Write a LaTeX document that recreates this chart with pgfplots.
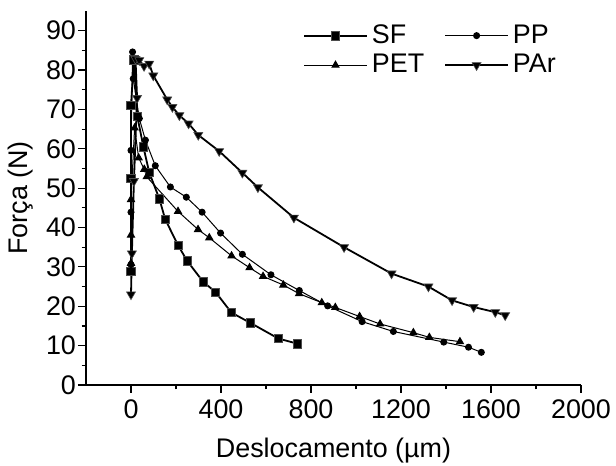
\documentclass[border=0pt]{standalone}
\usepackage{fontspec}
\setmainfont{Liberation Sans}
\usepackage{pgfplots}
\pgfplotsset{compat=1.18}

\begin{document}
\begin{tikzpicture}
\begin{axis}[
    scale only axis,
    width=247.5bp, height=187bp,
    xmin=-200, xmax=2000, ymin=0, ymax=95,
    axis lines=left,
    axis line style={-, line width=0.6bp},
    tick align=outside,
    xtick={0,400,...,2000},
    ytick={0,10,...,90},
    minor x tick num=1,
    minor y tick num=1,
    major tick length=4bp,
    minor tick length=2.2bp,
    every tick/.style={black, line width=0.6bp},
    /pgf/number format/assume math mode=true,
    /pgf/number format/set thousands separator={},
    tick label style={font=\fontsize{13.5}{16}\selectfont},
    yticklabel style={xshift=2.5bp},
    label style={font=\fontsize{13.5}{16}\selectfont},
    xlabel={Deslocamento (µm)},
    ylabel={Força (N)},
    xlabel style={at={(axis description cs:0.5,0)}, anchor=base, yshift=-36bp},
    ylabel style={at={(axis description cs:0,0.5)}, anchor=center, yshift=32.5bp},
    legend columns=2,
    legend style={draw=none, fill=none, inner sep=0pt,
        at={(axis description cs:0.4378,0.975)}, anchor=north west,
        font=\fontsize{13.5}{16}\selectfont,
        /tikz/every even column/.append style={column sep=8bp},
        row sep=0bp},
    legend cell align=left,
    legend image code/.code={
        \draw[mark repeat=2, mark phase=2, #1] plot coordinates {(0bp,0bp) (15.75bp,0bp) (31.5bp,0bp)};
    },
]
\addplot[black, line width=0.9bp, mark=square*, mark size=2.1bp,
    mark options={fill=black, draw=black!70, line width=0.3bp}] coordinates {
(0,28.9) (0,52.5) (0,71) (13,82.6) (28,68.3) (55,60.5) (81,54) (126,47.3)
(152,42.1) (209,35.5) (250,31.5) (321,26.2) (376,23.6) (446,18.4) (530,15.8)
(655,11.8) (739,10.5)
};
\addlegendentry{SF}
\addplot[black, line width=0.5bp, mark=*, mark size=1.5bp,
    mark options={fill=black}] coordinates {
(0,30.6) (0,43.9) (0,59.6) (7,84.6) (10,77.8) (37,67.7) (64,62.2) (108,55.7)
(175,50.3) (246,47.7) (316,43.9) (398,38.6) (495,33.2) (622,28.0) (748,24.0)
(874,20.1) (1027,16.1) (1166,13.6) (1390,10.9) (1500,9.6) (1557,8.3)
};
\addlegendentry{PP}
\addplot[black, line width=0.5bp, mark=triangle*, mark size=2.0bp,
    mark options={fill=black}] coordinates {
(0,30.9) (0,38.1) (0,47.1) (16,65.3) (34,57.7) (59,54.8) (70,52.9) (209,44.1)
(298,39.5) (348,37.4) (447,32.8) (527,29.8) (587,27.6) (677,25.4) (747,23.2)
(848,20.9) (908,19.7) (1016,17.4) (1107,15.5) (1255,13.3) (1326,12.1) (1462,11.0)
};
\addlegendentry{PET}
\addplot[black, line width=0.9bp, mark=triangle*, mark size=2.6bp,
    mark options={fill=black, draw=black!70, line width=0.3bp, rotate=180}] coordinates {
(0,23.0) (4,33.4) (13,51.8) (27,72.9) (20,82.8) (37,82.5) (58,81) (81,81.6)
(99,78.6) (161,72.5) (184,70.6) (215,68.5) (256,66.4) (299,63.5) (392,59.4)
(495,53.9) (564,50.2) (724,42.5) (947,35.0) (1158,28.3) (1322,25.0) (1427,21.5)
(1523,19.8) (1619,18.5) (1663,17.7)
};
\addlegendentry{PAr}
\end{axis}
\pgfresetboundingbox
\path[use as bounding box] (-43bp,-40.5bp) rectangle (265bp,192.5bp);
\end{tikzpicture}
\end{document}
